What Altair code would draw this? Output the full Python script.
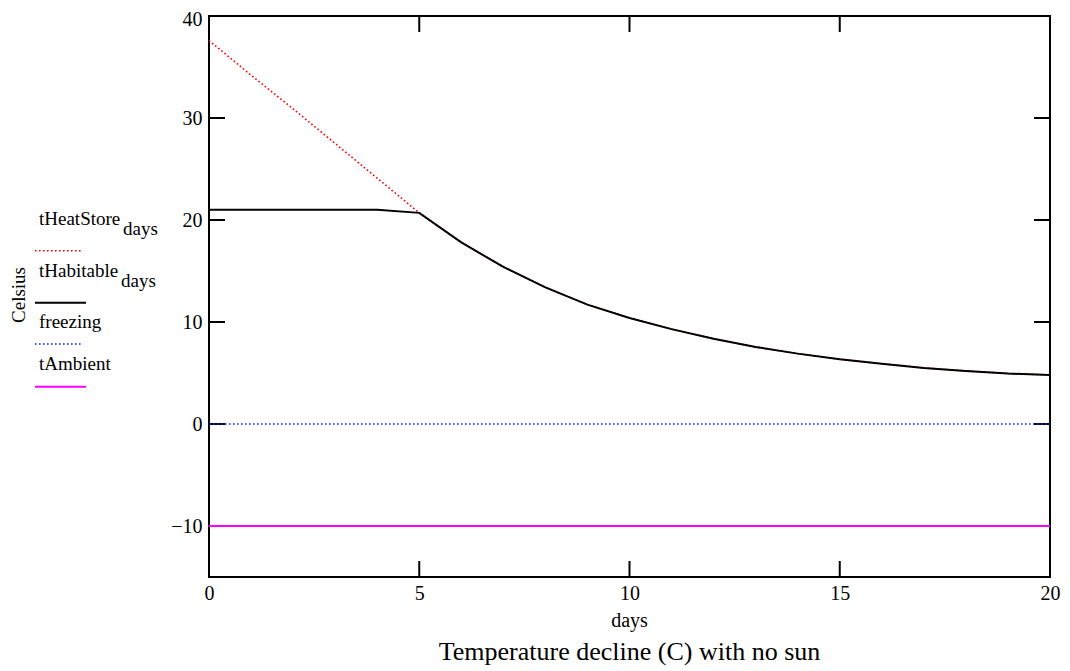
import altair as alt
import pandas as pd

# ---------------- data ----------------
days = [0, 1, 2, 3, 4, 5, 6, 7, 8, 9, 10, 11, 12, 13, 14, 15, 16, 17, 18, 19, 20]
t_heat_store = [37.6, 34.2, 30.9, 27.5, 24.1, 20.7, 17.8, 15.4, 13.4, 11.7, 10.4,
                9.3, 8.35, 7.55, 6.9, 6.35, 5.9, 5.5, 5.2, 4.95, 4.8]
t_habitable = [21.0, 21.0, 21.0, 21.0, 21.0, 20.7, 17.8, 15.4, 13.4, 11.7, 10.4,
               9.3, 8.35, 7.55, 6.9, 6.35, 5.9, 5.5, 5.2, 4.95, 4.8]
const_days = [0, 20]
freezing = [0, 0]
t_ambient = [-10, -10]

series_names = ["tHeatStore", "tHabitable", "freezing", "tAmbient"]
series_subs = ["days", "days", "", ""]

x_ticks = [0, 5, 10, 15, 20]
y_ticks = [-10, 0, 10, 20, 30, 40]
x_domain = [0, 20]
y_domain = [-15, 40]

x_title = "days"
y_title = "Celsius"
chart_title = "Temperature decline (C) with no sun"

# ---------------- styling ----------------
FONT = "Liberation Serif"
W, H = 841, 561
TICK = 16

xs = alt.Scale(domain=x_domain, nice=False, zero=False)
ys = alt.Scale(domain=y_domain, nice=False, zero=False)

x_axis = alt.Axis(values=x_ticks, ticks=False, domain=False, grid=False, title=None,
                  labelFont=FONT, labelFontSize=20, labelColor="black", labelPadding=6,
                  labelFlush=False, labelOverlap=False)
y_axis = alt.Axis(values=y_ticks, ticks=False, domain=False, grid=False, title=None,
                  labelFont=FONT, labelFontSize=20, labelColor="black", labelPadding=7,
                  labelFlush=False, labelOverlap=False,
                  labelOffset={"condition": {"test": "datum.value == 40", "value": 3},
                               "value": 0})

df_heat = pd.DataFrame({"day": days, "temp": t_heat_store})
df_hab = pd.DataFrame({"day": days, "temp": t_habitable})
df_frz = pd.DataFrame({"day": const_days, "temp": freezing})
df_amb = pd.DataFrame({"day": const_days, "temp": t_ambient})


def line(df, **kw):
    return alt.Chart(df).mark_line(clip=True, **kw).encode(
        x=alt.X("day:Q", scale=xs, axis=x_axis),
        y=alt.Y("temp:Q", scale=ys, axis=y_axis),
    )


heat = line(df_heat, color="#ff0000", strokeWidth=1.6, strokeDash=[1.6, 2.4])
hab = line(df_hab, color="black", strokeWidth=2)
frz = line(df_frz, color="#2020ff", strokeWidth=1.6, strokeDash=[1.6, 2.4])
amb = line(df_amb, color="#ff00ff", strokeWidth=2)

# inward ticks on all four sides
df_xt = pd.DataFrame({"v": x_ticks})
df_yt = pd.DataFrame({"v": y_ticks})
tick_l = alt.Chart(df_yt).mark_rule(color="black", strokeWidth=2).encode(
    y=alt.Y("v:Q", scale=ys), x=alt.value(0), x2=alt.value(TICK))
tick_r = alt.Chart(df_yt).mark_rule(color="black", strokeWidth=2).encode(
    y=alt.Y("v:Q", scale=ys), x=alt.value(W - TICK), x2=alt.value(W))
tick_b = alt.Chart(df_xt).mark_rule(color="black", strokeWidth=2).encode(
    x=alt.X("v:Q", scale=xs), y=alt.value(H - TICK), y2=alt.value(H))
tick_t = alt.Chart(df_xt).mark_rule(color="black", strokeWidth=2).encode(
    x=alt.X("v:Q", scale=xs), y=alt.value(0), y2=alt.value(TICK))


def text(s, x, y, size=19, align="left", angle=0):
    kw = dict(align=align, baseline="alphabetic", font=FONT, fontSize=size, color="black")
    if angle:
        kw["angle"] = angle
    return alt.Chart(pd.DataFrame({"t": [s]})).mark_text(**kw).encode(
        x=alt.value(x), y=alt.value(y), text="t:N")


def sample(y, x1, x2, **kw):
    return alt.Chart(pd.DataFrame({"t": [0]})).mark_rule(**kw).encode(
        x=alt.value(x1), x2=alt.value(x2), y=alt.value(y))


legend_layers = [
    text(series_names[0], -170, 209),
    text(series_subs[0], -86, 219),
    sample(234.7, -174, -126, color="#ff0000", strokeWidth=1.6, strokeDash=[1.6, 2.4]),
    text(series_names[1], -170, 261),
    text(series_subs[1], -88, 271),
    sample(286.7, -174, -123, color="black", strokeWidth=2),
    text(series_names[2], -170, 312),
    sample(328, -174, -126, color="#2020ff", strokeWidth=1.6, strokeDash=[1.6, 2.4]),
    text(series_names[3], -170, 354),
    sample(370.7, -174, -123, color="#ff00ff", strokeWidth=2),
]

titles = [
    text(y_title, -184, 279, size=19, align="center", angle=270),
    text(x_title, W / 2, 610.7, size=20, align="center"),
    text(chart_title, W / 2, 644, size=26, align="center"),
]

chart = alt.layer(
    tick_l, tick_r, tick_b, tick_t, heat, hab, frz, amb, *legend_layers, *titles
).properties(
    width=W,
    height=H,
    autosize=alt.AutoSizeParams(type="none"),
    padding={"left": 201, "top": 8, "right": 12, "bottom": 92},
).configure(
    background="white"
).configure_view(
    stroke="black", strokeWidth=2, fill="white"
)

chart.save("out.html", embed_options={"renderer": "svg", "actions": False})
